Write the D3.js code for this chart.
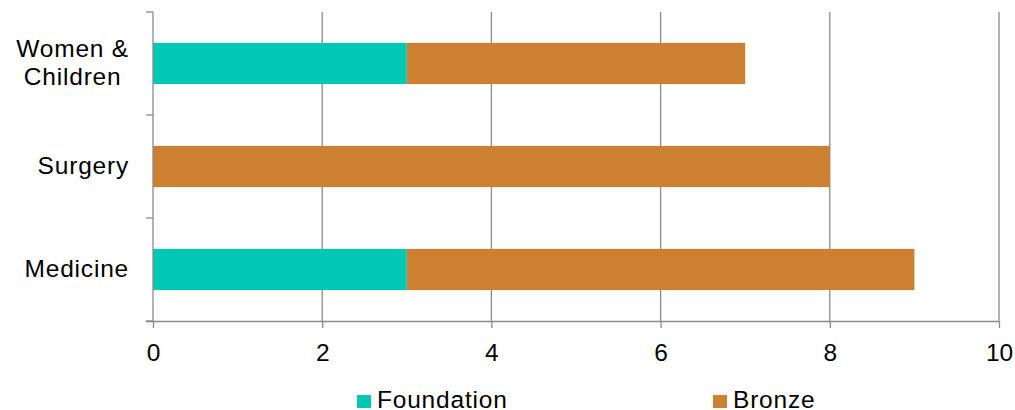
<!DOCTYPE html>
<html>
<head>
<meta charset="utf-8">
<script src="https://cdn.jsdelivr.net/npm/d3@7"></script>
<style>
    body { margin: 0; background: #fff; }
    svg { display: block; font-family: "Liberation Sans", Arial, sans-serif; }
</style>
</head>
<body>
<svg id="chart" width="1015" height="410"></svg>
<script>
(function () {
    const width = 1015;
    const height = 410;

    // data
    const categories = ["Women & Children", "Surgery", "Medicine"];
    const categoryLines = [["Women &", "Children"], ["Surgery"], ["Medicine"]];
    const foundation = [3, 0, 3];
    const bronze = [4, 8, 6];
    const seriesNames = ["Foundation", "Bronze"];
    const seriesColors = ["#00c8b4", "#cd7f32"];
    const xTicks = [0, 2, 4, 6, 8, 10];

    const margin = { top: 12, right: 16, bottom: 89, left: 153 };
    const axisColor = "#8a8a8a";
    const fontSize = 24.5;
    const spacing = "0.8px";

    const svg = d3.select("#chart");

    const x = d3.scaleLinear()
        .domain([0, 10])
        .range([margin.left, width - margin.right]);

    const y = d3.scaleBand()
        .domain(categories)
        .range([margin.top, height - margin.bottom])
        .paddingInner(0.6)
        .paddingOuter(0.3);

    const rows = categories.map((c, i) => ({ cat: c, Foundation: foundation[i], Bronze: bronze[i] }));
    const stacked = d3.stack().keys(seriesNames)(rows);

    // vertical gridlines
    svg.append("g")
        .selectAll("line")
        .data(xTicks.filter(t => t > 0))
        .join("line")
        .attr("x1", d => x(d)).attr("x2", d => x(d))
        .attr("y1", margin.top).attr("y2", height - margin.bottom)
        .attr("stroke", axisColor)
        .attr("stroke-width", 1.3);

    // bars
    svg.append("g")
        .selectAll("g")
        .data(stacked)
        .join("g")
        .attr("fill", (d, i) => seriesColors[i])
        .selectAll("rect")
        .data(d => d.filter(p => p[1] > p[0]))
        .join("rect")
        .attr("x", d => x(d[0]))
        .attr("width", d => x(d[1]) - x(d[0]))
        .attr("y", d => y(d.data.cat))
        .attr("height", y.bandwidth());

    // y axis line + ticks at band boundaries
    const yAxis = svg.append("g");
    yAxis.append("line")
        .attr("x1", x(0)).attr("x2", x(0))
        .attr("y1", margin.top).attr("y2", height - margin.bottom)
        .attr("stroke", axisColor).attr("stroke-width", 1.3);
    const boundaries = d3.range(categories.length + 1)
        .map(i => margin.top + i * (height - margin.bottom - margin.top) / categories.length);
    yAxis.selectAll(".ytick")
        .data(boundaries)
        .join("line")
        .attr("class", "ytick")
        .attr("x1", x(0) - 7).attr("x2", x(0))
        .attr("y1", d => d).attr("y2", d => d)
        .attr("stroke", axisColor).attr("stroke-width", 1.3);

    // category labels: lines centred in a block right-aligned to the axis
    const labels = svg.append("g")
        .attr("font-size", fontSize)
        .attr("letter-spacing", spacing)
        .attr("fill", "#000");
    categories.forEach((c, i) => {
        const lines = categoryLines[i];
        const cy = y(c) + y.bandwidth() / 2;
        const lineH = 28;
        const t = labels.append("text").attr("text-anchor", "middle");
        lines.forEach((ln, j) => {
            t.append("tspan")
                .attr("x", 0)
                .attr("y", cy + 7.5 + (j - (lines.length - 1) / 2) * lineH)
                .text(ln);
        });
        const w = d3.max(t.selectAll("tspan").nodes(), n => n.getComputedTextLength());
        t.selectAll("tspan").attr("x", 129 - w / 2);
    });

    // x axis
    const xAxis = svg.append("g")
        .attr("transform", `translate(0,${height - margin.bottom})`)
        .call(d3.axisBottom(x).tickValues(xTicks).tickSize(7).tickSizeOuter(0).tickPadding(16));
    xAxis.select(".domain")
        .attr("d", `M${x(0) - 7},0.5H${x(10)}`)
        .attr("stroke", axisColor).attr("stroke-width", 1.3);
    xAxis.selectAll(".tick line").attr("stroke", axisColor).attr("stroke-width", 1.3);
    xAxis.selectAll(".tick text")
        .attr("font-size", fontSize)
        .attr("font-family", "Liberation Sans, Arial, sans-serif")
        .attr("fill", "#000");

    // legend
    const legendX = [357, 713];
    const legend = svg.append("g")
        .selectAll("g")
        .data(seriesNames)
        .join("g")
        .attr("transform", (d, i) => `translate(${legendX[i]},395)`);
    legend.append("rect")
        .attr("width", 14).attr("height", 13)
        .attr("fill", (d, i) => seriesColors[i]);
    legend.append("text")
        .attr("x", 20).attr("y", 12.5)
        .attr("font-size", fontSize)
        .attr("letter-spacing", spacing)
        .attr("fill", "#000")
        .text(d => d);
})();
</script>
</body>
</html>
